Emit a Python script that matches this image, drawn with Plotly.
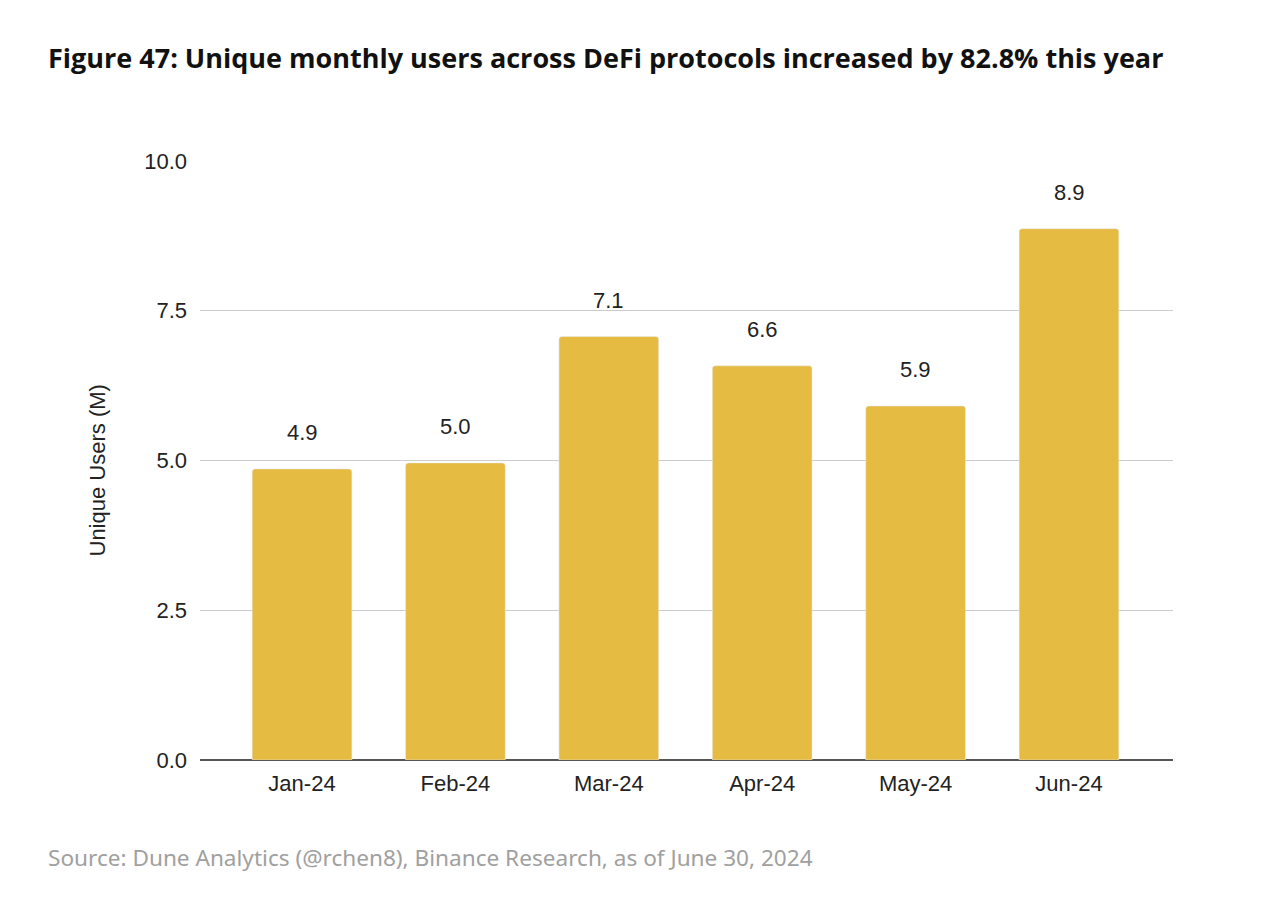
import plotly.graph_objects as go

months = ["Jan-24", "Feb-24", "Mar-24", "Apr-24", "May-24", "Jun-24"]
users_m = [4.86, 4.96, 7.07, 6.58, 5.91, 8.87]
y_ticks = [0, 2.5, 5, 7.5, 10]
y_tick_labels = ["0.0", "2.5", "5.0", "7.5", "10.0"]

title_text = "Figure 47: Unique monthly users across DeFi protocols increased by 82.8% this year"
source_text = "Source: Dune Analytics (@rchen8), Binance Research, as of June 30, 2024"
y_title = "Unique Users (M)"

AX_FONT = "Liberation Sans, Arial, sans-serif"

fig = go.Figure()
fig.add_trace(go.Bar(
    x=months, y=users_m,
    marker=dict(color="#E6BB41", cornerradius=3),
    width=0.65,
    hoverinfo="x+y",
))

annotations = []
for m, v in zip(months, users_m):
    annotations.append(dict(
        x=m, y=v, xref="x", yref="y", text=f"{v:.1f}", showarrow=False,
        yanchor="bottom", yshift=22,
        font=dict(family=AX_FONT, size=22, color="#222"),
    ))

annotations += [
    dict(text=title_text, xref="paper", yref="paper", x=0, y=1, xanchor="left", yanchor="middle",
         xshift=-154, yshift=104, showarrow=False,
         font=dict(family="Open Sans, sans-serif", size=27, color="#111", weight="bold")),
    dict(text=source_text, xref="paper", yref="paper", x=0, y=0, xanchor="left", yanchor="middle",
         xshift=-154, yshift=-97, showarrow=False,
         font=dict(family="Noto Sans, sans-serif", size=22.6, color="#A0A0A0")),
    dict(text=y_title, xref="paper", yref="paper", x=0, y=0.5, xanchor="center", yanchor="middle",
         xshift=-103, yshift=-10, textangle=-90, showarrow=False,
         font=dict(family=AX_FONT, size=22, color="#222")),
]

fig.update_layout(
    width=1280, height=911,
    paper_bgcolor="white", plot_bgcolor="white",
    margin=dict(l=192, r=115, t=153, b=159),
    showlegend=False,
    font=dict(family=AX_FONT, size=22, color="#222"),
    xaxis=dict(range=[-0.665, 5.678], showgrid=False, showline=False, ticks="",
               ticklabelstandoff=8,
               tickfont=dict(size=22, color="#222")),
    yaxis=dict(range=[0, 10], tickvals=y_ticks, ticktext=y_tick_labels,
               showgrid=True, gridcolor="#CCCCCC", gridwidth=1.3,
               zeroline=True, zerolinecolor="#555555", zerolinewidth=1.5,
               showline=False, ticks="", ticklabelstandoff=12,
               tickfont=dict(size=22, color="#222")),
    annotations=annotations,
)

fig.write_html("out.html")
